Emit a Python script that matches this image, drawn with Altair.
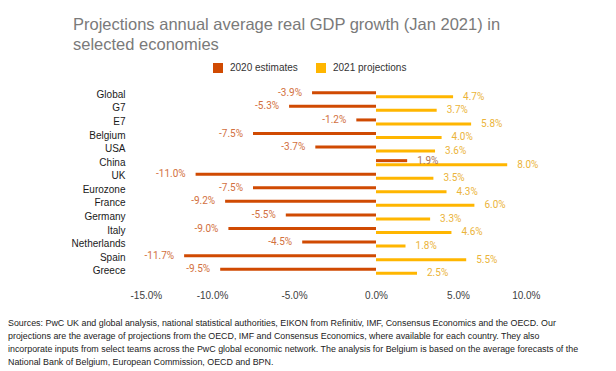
import altair as alt
import pandas as pd

countries = ["Global", "G7", "E7", "Belgium", "USA", "China", "UK", "Eurozone",
             "France", "Germany", "Italy", "Netherlands", "Spain", "Greece"]
est_2020 = [-3.9, -5.3, -1.2, -7.5, -3.7, 1.9, -11.0, -7.5, -9.2, -5.5, -9.0, -4.5, -11.7, -9.5]
proj_2021 = [4.7, 3.7, 5.8, 4.0, 3.6, 8.0, 3.5, 4.3, 6.0, 3.3, 4.6, 1.8, 5.5, 2.5]
series = ["2020 estimates", "2021 projections"]
bar_colors = ["#D04A02", "#FFB600"]
x_ticks = [-15, -10, -5, 0, 5, 10]

title_lines = ["Projections annual average real GDP growth (Jan 2021) in",
               "selected economies"]
source_lines = [
    "Sources: PwC UK and global analysis, national statistical authorities, EIKON from Refinitiv, IMF, Consensus Economics and the OECD. Our",
    "projections are the average of projections from the OECD, IMF and Consensus Economics, where available for each country. They also",
    "incorporate inputs from select teams across the PwC global economic network. The analysis for Belgium is based on the average forecasts of the",
    "National Bank of Belgium, European Commission, OECD and BPN.",
]

rows = []
for c, a, b in zip(countries, est_2020, proj_2021):
    rows.append({"country": c, "series": series[0], "value": a})
    rows.append({"country": c, "series": series[1], "value": b})
df = pd.DataFrame(rows)

FONT = "Liberation Sans"
PCT = "(datum.value < 0 ? '-' : '') + format(abs(datum.value), '.1f') + '%'"

y_enc = alt.Y("country:N", sort=countries, title=None,
              scale=alt.Scale(paddingInner=0, paddingOuter=0),
              axis=alt.Axis(domain=False, ticks=False, labelPadding=5,
                            labelFontSize=10, labelFont=FONT, labelColor="#1a1a1a"))
yoff_enc = alt.YOffset("series:N", sort=series,
                       scale=alt.Scale(domain=series, paddingInner=0, paddingOuter=0.7))
x_enc = alt.X("value:Q", title=None,
              scale=alt.Scale(domain=[-15, 10], nice=False),
              axis=alt.Axis(values=x_ticks, domain=False, ticks=False, grid=False,
                            labelPadding=12, labelFontSize=10, labelFont=FONT,
                            labelColor="#404040", labelExpr=PCT))

base = alt.Chart(df).transform_calculate(label=PCT)

bars = base.mark_bar(size=3).encode(
    y=y_enc, yOffset=yoff_enc, x=x_enc,
    color=alt.Color("series:N", sort=series,
                    scale=alt.Scale(domain=series, range=bar_colors),
                    legend=alt.Legend(orient="none", legendX=83, legendY=-25,
                                      direction="horizontal", title=None,
                                      symbolType="square", symbolSize=100,
                                      symbolStrokeWidth=0, labelFontSize=10,
                                      labelFont=FONT, labelColor="#333333",
                                      labelOffset=7, columnPadding=18)),
)

lab_neg = base.transform_filter(
    (alt.datum.series == series[0]) & (alt.datum.value < 0)
).mark_text(align="right", baseline="middle", dx=-10, fontSize=10,
            font="Roboto", color="#D2703E").encode(
    y=y_enc, yOffset=yoff_enc, x=x_enc, text="label:N")

lab_pos20 = base.transform_filter(
    (alt.datum.series == series[0]) & (alt.datum.value >= 0)
).mark_text(align="left", baseline="middle", dx=10, fontSize=10,
            font="Roboto", color="#A8735A").encode(
    y=y_enc, yOffset=yoff_enc, x=x_enc, text="label:N")

lab21 = base.transform_filter(
    alt.datum.series == series[1]
).mark_text(align="left", baseline="middle", dx=10, fontSize=10,
            font="Roboto", color="#EBB43A").encode(
    y=y_enc, yOffset=yoff_enc, x=x_enc, text="label:N")

source = alt.Chart(alt.Data(values=[{}])).mark_text(
    text=source_lines, align="left", baseline="middle", lineHeight=13,
    fontSize=8.9, font=FONT, color="#222222"
).encode(x=alt.value(-122), y=alt.value(235))

chart = alt.layer(bars, lab_neg, lab_pos20, lab21, source).properties(
    width=410, height=190,
    autosize=alt.AutoSizeParams(type="none"),
    padding={"left": 122, "top": 80, "right": 68, "bottom": 95},
    title=alt.TitleParams(text=title_lines, anchor="start", frame="group",
                          dx=-57, dy=-6, fontSize=16.5, font=FONT,
                          fontWeight="normal", color="#7A7A7A", lineHeight=20),
).configure_view(stroke=None)

chart.save("out.html", embed_options={"renderer": "svg", "actions": False})
